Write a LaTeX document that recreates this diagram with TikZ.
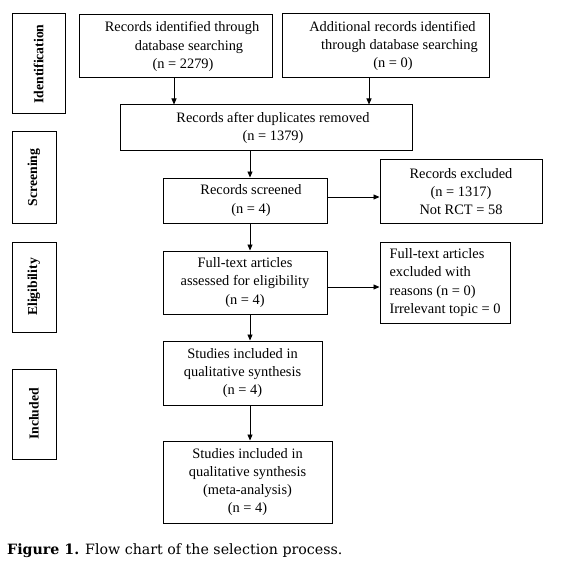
\documentclass[tikz,border=0pt]{standalone}
\usepackage{fontspec}
\setmainfont{Liberation Serif}
\newfontfamily\capfont{DejaVu Serif}
\usetikzlibrary{arrows.meta}
\begin{document}
\begin{tikzpicture}[x=1pt,y=-1pt,
  box/.style={draw, line width=1pt, align=center, font=\fontsize{14.4}{18.3}\selectfont, inner sep=0pt},
  side/.style={draw, line width=1pt, rotate=90, font=\fontsize{13.7}{16}\selectfont\bfseries, inner sep=0pt},
  arr/.style={line width=0.9pt, -{Triangle[length=6pt,width=5pt]}}]
\useasboundingbox (0,0) rectangle (566,572);
\fill[white] (0,0) rectangle (566,572);
% side labels
\node[side, minimum width=100pt, minimum height=53pt] (idn) at (38.5,64) {Identification};
\node[side, minimum width=91pt, minimum height=44pt] (scr) at (34,177.5) {Screening};
\node[side, minimum width=90pt, minimum height=44pt] (elg) at (34,287) {Eligibility};
\node[side, minimum width=90pt, minimum height=44pt] (inc) at (34,414) {Included};
% boxes
\node[box, minimum width=193pt, minimum height=63pt] (A) at (175.5,46.5)
  {\hspace*{13pt}Records identified through\\\hspace*{27pt}database searching\\\hspace*{15pt}(n = 2279)};
\node[box, minimum width=207pt, minimum height=64pt] (D) at (385.5,46)
  {\hspace*{14pt}Additional records identified\\\hspace*{28pt}through database searching\\\hspace*{15pt}(n = 0)};
\node[box, minimum width=292pt, minimum height=46pt] (B) at (266,128)
  {\hspace*{14pt}Records after duplicates removed\\\hspace*{14pt}(n = 1379)};
\node[box, minimum width=164pt, minimum height=45pt] (S) at (245,200.5)
  {\hspace*{12pt}Records screened\\\hspace*{12pt}(n = 4)};
\node[box, minimum width=162pt, minimum height=63pt] (E) at (461,191.5)
  {Records excluded\\(n = 1317)\\Not RCT = 58};
\node[box, minimum width=164pt, minimum height=63pt] (F) at (245,282.5)
  {Full-text articles\\assessed for eligibility\\(n = 4)};
\node[box, align=left, minimum width=130pt, minimum height=81pt] (G) at (445,282.5)
  {Full-text articles\\excluded with\\reasons (n = 0)\\Irrelevant topic = 0};
\node[box, minimum width=159pt, minimum height=64pt] (Q1) at (242.5,373)
  {Studies included in\\qualitative synthesis\\(n = 4)};
\node[box, minimum width=169pt, minimum height=82pt] (Q2) at (247.5,482)
  {Studies included in\\qualitative synthesis\\(meta-analysis)\\(n = 4)};
% arrows
\draw[arr] ([xshift=-1.5pt]A.south) -- ([xshift=-1.5pt]A.south |- B.north);
\draw[arr] ([xshift=-16.5pt]D.south) -- ([xshift=-16.5pt]D.south |- B.north);
\draw[arr] ([xshift=5pt]S.north |- B.south) -- ([xshift=5pt]S.north);
\draw[arr] ([yshift=3.5pt]S.east) -- ([yshift=3.5pt]S.east -| E.west);
\draw[arr] ([xshift=5pt]S.south) -- ([xshift=5pt]F.north);
\draw[arr] ([yshift=-4.5pt]F.east) -- ([yshift=-4.5pt]F.east -| G.west);
\draw[arr] ([xshift=5pt]F.south) -- ([xshift=5pt]F.south |- Q1.north);
\draw[arr] ([xshift=7.5pt]Q1.south) -- ([xshift=7.5pt]Q1.south |- Q2.north);
% caption
\node[anchor=base west, inner sep=0pt, font=\capfont\fontsize{14.2}{17}\selectfont] (cap) at (7,554)
  {\textbf{Figure 1.} Flow chart of the selection process.};
\end{tikzpicture}
\end{document}
